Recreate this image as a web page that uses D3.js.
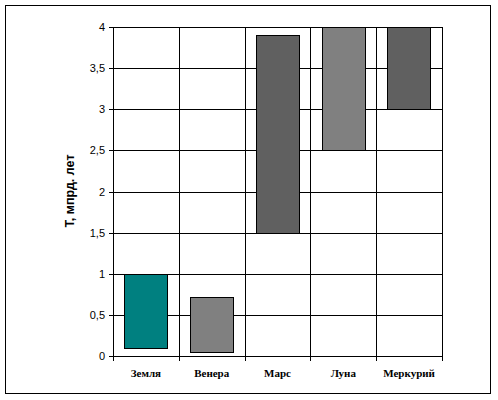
<!DOCTYPE html>
<html>
<head>
<meta charset="utf-8">
<script src="https://cdn.jsdelivr.net/npm/d3@7"></script>
<style>
  body { margin: 0; background: #fff; }
</style>
</head>
<body>
<div id="chart"></div>
<script>
// data: age ranges, billions of years
const planets = ["Земля", "Венера", "Марс", "Луна", "Меркурий"];
const startValues = [0.1, 0.05, 1.5, 2.5, 3];
const endValues = [1, 0.72, 3.9, 4, 4];
const yTicks = [0, 0.5, 1, 1.5, 2, 2.5, 3, 3.5, 4];
const yTitle = "Т, мпрд. лет";

// fill per bar
const colors = ["#008080", "#808080", "#606060", "#808080", "#606060"];

const W = 498, H = 400;
const margin = { top: 27, right: 56, bottom: 44, left: 113 };
const width = 442 - margin.left;
const height = 356 - margin.top;

const svg = d3.select("#chart")
  .append("svg")
  .attr("width", W)
  .attr("height", H)
  .attr("shape-rendering", "crispEdges");

// outer frame
svg.append("rect")
  .attr("x", 5.5).attr("y", 5.5)
  .attr("width", 485).attr("height", 388)
  .attr("fill", "none").attr("stroke", "#000");

const g = svg.append("g")
  .attr("transform", `translate(${margin.left},${margin.top})`);

const x = d3.scaleBand()
  .domain(planets)
  .range([0, width])
  .paddingInner(0.34)
  .paddingOuter(0.17);

const y = d3.scaleLinear()
  .domain([0, d3.max(yTicks)])
  .range([height, 0]);

const step = x.step();
const boundaries = planets.map(p => x(p) - step * 0.17).concat([width]);

// horizontal gridlines
g.append("g")
  .selectAll("line")
  .data(yTicks)
  .enter()
  .append("line")
  .attr("x1", 0).attr("x2", width)
  .attr("y1", d => Math.round(y(d)) + 0.5)
  .attr("y2", d => Math.round(y(d)) + 0.5)
  .attr("stroke", "#000");

// vertical gridlines at category boundaries, with ticks below the axis
g.append("g")
  .selectAll("line")
  .data(boundaries)
  .enter()
  .append("line")
  .attr("x1", d => Math.round(d) + 0.5)
  .attr("x2", d => Math.round(d) + 0.5)
  .attr("y1", 0)
  .attr("y2", height + 5)
  .attr("stroke", "#000");

// y axis
const yAxis = g.append("g")
  .call(d3.axisLeft(y).tickValues(yTicks).tickSize(4).tickPadding(4)
    .tickFormat(d => String(d).replace(".", ",")));
yAxis.select(".domain").remove();
yAxis.selectAll("line").attr("stroke", "#000");
yAxis.selectAll("text")
  .attr("font-family", "Arial, 'Liberation Sans', sans-serif")
  .attr("font-size", "11px")
  .attr("fill", "#000");

// floating bars
g.append("g")
  .selectAll("rect")
  .data(planets)
  .enter()
  .append("rect")
  .attr("x", d => Math.round(x(d)) + 0.5)
  .attr("y", (d, i) => Math.round(y(endValues[i])) + 0.5)
  .attr("width", Math.round(x.bandwidth()))
  .attr("height", (d, i) => Math.round(y(startValues[i])) - Math.round(y(endValues[i])))
  .attr("fill", (d, i) => colors[i])
  .attr("stroke", "#000");

// category labels
g.append("g")
  .selectAll("text")
  .data(planets)
  .enter()
  .append("text")
  .text(d => d)
  .attr("x", d => x(d) + x.bandwidth() / 2)
  .attr("y", height + 21)
  .attr("text-anchor", "middle")
  .attr("font-family", "'Liberation Serif', 'Times New Roman', serif")
  .attr("font-weight", "bold")
  .attr("font-size", "11px")
  .attr("fill", "#000");

// y title
svg.append("text")
  .text(yTitle)
  .attr("transform", "translate(74,191) rotate(-90)")
  .attr("text-anchor", "middle")
  .attr("font-family", "Arial, 'Liberation Sans', sans-serif")
  .attr("font-weight", "bold")
  .attr("font-size", "12.5px")
  .attr("fill", "#000");
</script>
</body>
</html>
